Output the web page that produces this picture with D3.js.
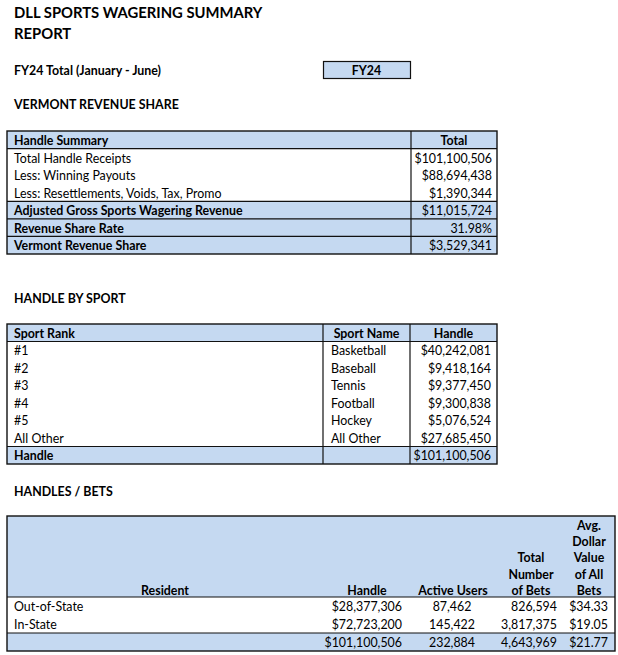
<!DOCTYPE html>
<html>
<head>
<meta charset="utf-8">
<script src="https://cdn.jsdelivr.net/npm/d3@7"></script>
<style>
  html, body { margin: 0; padding: 0; background: #fff; }
  svg { display: block; font-family: Lato, "Open Sans", sans-serif; }
</style>
</head>
<body>
<svg id="chart" width="618" height="655"></svg>
<script>
// ---------- DATA ----------
const titleLines = ["DLL SPORTS WAGERING SUMMARY", "REPORT"];
const periodLabel = "FY24 Total (January - June)";
const periodTag = "FY24";

const summaryHeader = ["Handle Summary", "Total"];
const summaryItems = [
  "Total Handle Receipts",
  "Less: Winning Payouts",
  "Less: Resettlements, Voids, Tax, Promo",
  "Adjusted Gross Sports Wagering Revenue",
  "Revenue Share Rate",
  "Vermont Revenue Share"
];
const summaryValues = [101100506, 88694438, 1390344, 11015724, 0.3198, 3529341];

const sportHeader = ["Sport Rank", "Sport Name", "Handle"];
const sportRanks = ["#1", "#2", "#3", "#4", "#5", "All Other"];
const sportNames = ["Basketball", "Baseball", "Tennis", "Football", "Hockey", "All Other"];
const sportHandles = [40242081, 9418164, 9377450, 9300838, 5076524, 27685450];
const sportTotalLabel = "Handle";
const sportTotal = 101100506;

const betHeader = [["Resident"], ["Handle"], ["Active Users"], ["Total", "Number", "of Bets"], ["Avg.", "Dollar", "Value", "of All", "Bets"]];
const residents = ["Out-of-State", "In-State"];
const residentHandles = [28377306, 72723200];
const activeUsers = [87462, 145422];
const totalBets = [826594, 3817375];
const avgBetValue = [34.33, 19.05];
const betTotals = [101100506, 232884, 4643969, 21.77];

// ---------- SETUP ----------
const svg = d3.select("#chart");
const FILL = "#c5d9f1";
const LINE = "#111";
const FS = 12.4;
const money = d3.format("$,");
const pct = d3.format(".2%");
const cents = d3.format("$.2f");
const count = d3.format(",");

function txt(g, x, y, s, opt = {}) {
  return g.append("text")
    .attr("x", x).attr("y", y)
    .attr("dy", "0.42em")
    .attr("font-size", opt.size || FS)
    .attr("font-weight", opt.bold ? 700 : 400)
    .attr("text-anchor", opt.anchor || "start")
    .attr("fill", "#000")
    .text(s);
}

// ---------- TITLE ----------
const titleY = d3.scalePoint().domain(d3.range(titleLines.length)).range([12, 33]);
titleLines.forEach((t, i) => txt(svg, 14, titleY(i), t, { bold: true, size: 14.8 }));

txt(svg, 14, 70, periodLabel, { bold: true });
svg.append("rect").attr("x", 323.5).attr("y", 61.5).attr("width", 87).attr("height", 17)
  .attr("fill", FILL).attr("stroke", LINE).attr("stroke-width", 1.2);
txt(svg, 366.5, 70, periodTag, { bold: true, anchor: "middle" });

txt(svg, 14, 104, "VERMONT REVENUE SHARE", { bold: true });
txt(svg, 14, 298, "HANDLE BY SPORT", { bold: true });
txt(svg, 14, 491, "HANDLES / BETS", { bold: true });

// ---------- TABLE 1 ----------
{
  const g = svg.append("g");
  const x0 = 7, x1 = 411, x2 = 497;
  const y = d3.scaleBand().domain(d3.range(summaryItems.length + 1)).range([131, 254]);
  const bh = y.bandwidth();
  const boldStart = 3;
  g.append("rect").attr("x", x0).attr("y", y(0)).attr("width", x2 - x0).attr("height", bh).attr("fill", FILL);
  g.append("rect").attr("x", x0).attr("y", y(boldStart + 1)).attr("width", x2 - x0)
    .attr("height", y(summaryItems.length) + bh - y(boldStart + 1)).attr("fill", FILL);
  const hl = [y(1), y(boldStart + 1), y(boldStart + 2), y(boldStart + 3)];
  hl.forEach(v => g.append("line").attr("x1", x0).attr("x2", x2).attr("y1", v).attr("y2", v).attr("stroke", LINE).attr("stroke-width", 1.2));
  g.append("line").attr("x1", x1).attr("x2", x1).attr("y1", y(0)).attr("y2", y(summaryItems.length) + bh).attr("stroke", LINE).attr("stroke-width", 1.2);
  g.append("rect").attr("x", x0).attr("y", y(0)).attr("width", x2 - x0).attr("height", y(summaryItems.length) + bh - y(0))
    .attr("fill", "none").attr("stroke", LINE).attr("stroke-width", 1.4);
  txt(g, 14, y(0) + bh / 2, summaryHeader[0], { bold: true });
  txt(g, (x1 + x2) / 2, y(0) + bh / 2, summaryHeader[1], { bold: true, anchor: "middle" });
  summaryItems.forEach((s, i) => {
    const b = i >= boldStart;
    txt(g, 14, y(i + 1) + bh / 2, s, { bold: b });
    const v = summaryValues[i];
    txt(g, x2 - 5, y(i + 1) + bh / 2, i === 4 ? pct(v) : money(v), { anchor: "end" });
  });
}

// ---------- TABLE 2 ----------
{
  const g = svg.append("g");
  const x0 = 7, x1 = 323, x2 = 410, x3 = 497;
  const n = sportRanks.length + 2;
  const y = d3.scaleBand().domain(d3.range(n)).range([324, 464]);
  const bh = y.bandwidth();
  g.append("rect").attr("x", x0).attr("y", y(0)).attr("width", x3 - x0).attr("height", bh).attr("fill", FILL);
  g.append("rect").attr("x", x0).attr("y", y(n - 1)).attr("width", x3 - x0).attr("height", bh).attr("fill", FILL);
  [y(1), y(n - 1)].forEach(v => g.append("line").attr("x1", x0).attr("x2", x3).attr("y1", v).attr("y2", v).attr("stroke", LINE).attr("stroke-width", 1.2));
  [x1, x2].forEach(v => g.append("line").attr("x1", v).attr("x2", v).attr("y1", y(0)).attr("y2", y(n - 1) + bh).attr("stroke", LINE).attr("stroke-width", 1.2));
  g.append("rect").attr("x", x0).attr("y", y(0)).attr("width", x3 - x0).attr("height", y(n - 1) + bh - y(0))
    .attr("fill", "none").attr("stroke", LINE).attr("stroke-width", 1.4);
  txt(g, 14, y(0) + bh / 2, sportHeader[0], { bold: true });
  txt(g, (x1 + x2) / 2, y(0) + bh / 2, sportHeader[1], { bold: true, anchor: "middle" });
  txt(g, (x2 + x3) / 2, y(0) + bh / 2, sportHeader[2], { bold: true, anchor: "middle" });
  sportRanks.forEach((r, i) => {
    const cy = y(i + 1) + bh / 2;
    txt(g, 14, cy, r);
    txt(g, x1 + 8, cy, sportNames[i]);
    txt(g, x3 - 6, cy, money(sportHandles[i]), { anchor: "end" });
  });
  txt(g, 14, y(n - 1) + bh / 2, sportTotalLabel, { bold: true });
  txt(g, x3 - 6, y(n - 1) + bh / 2, money(sportTotal), { anchor: "end" });
}

// ---------- TABLE 3 ----------
{
  const g = svg.append("g");
  const x0 = 7, x1 = 615;
  const headTop = 516, headBot = 597, bot = 651;
  const y = d3.scaleBand().domain(d3.range(residents.length + 1)).range([headBot, bot]);
  const bh = y.bandwidth();
  g.append("rect").attr("x", x0).attr("y", headTop).attr("width", x1 - x0).attr("height", headBot - headTop).attr("fill", FILL);
  g.append("rect").attr("x", x0).attr("y", y(residents.length)).attr("width", x1 - x0).attr("height", bh).attr("fill", FILL);
  [headBot, y(residents.length)].forEach(v => g.append("line").attr("x1", x0).attr("x2", x1).attr("y1", v).attr("y2", v).attr("stroke", LINE).attr("stroke-width", 1.2));
  g.append("rect").attr("x", x0).attr("y", headTop).attr("width", x1 - x0).attr("height", bot - headTop)
    .attr("fill", "none").attr("stroke", LINE).attr("stroke-width", 1.4);

  const headX = [165, 367, 453, 531, 589];
  const lineY = d3.scaleLinear().domain([0, 4]).range([525, 589.5]);
  betHeader.forEach((lines, c) => {
    lines.forEach((s, k) => {
      const idx = 5 - lines.length + k;
      txt(g, headX[c], lineY(idx), s, { bold: true, anchor: "middle" });
    });
  });
  const cols = [
    { vals: residentHandles, f: money, x: 402, a: "end" },
    { vals: activeUsers, f: count, x: 452, a: "middle" },
    { vals: totalBets, f: count, x: 557, a: "end" },
    { vals: avgBetValue, f: cents, x: 608, a: "end" }
  ];
  residents.forEach((r, i) => {
    const cy = y(i) + bh / 2;
    txt(g, 14, cy, r);
    cols.forEach(c => txt(g, c.x, cy, c.f(c.vals[i]), { anchor: c.a }));
  });
  const ty = y(residents.length) + bh / 2;
  cols.forEach((c, k) => txt(g, c.x, ty, c.f(betTotals[k]), { anchor: c.a }));
}
</script>
</body>
</html>
